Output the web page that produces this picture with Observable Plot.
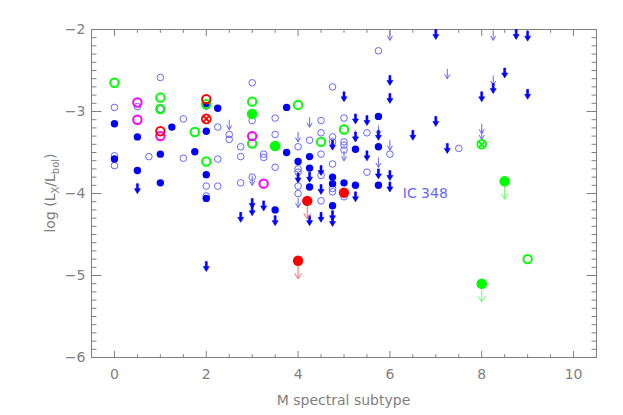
<!DOCTYPE html>
<html><head><meta charset="utf-8">
<script src="https://cdn.jsdelivr.net/npm/d3@7"></script>
<script src="https://cdn.jsdelivr.net/npm/@observablehq/plot@0.6"></script>
<style>body{margin:0;background:#fff} svg{display:block}</style>
</head><body><div id="chart"></div>
<script>
// ---- data (M subtype, log Lx/Lbol) ----
const openBlue = [
 [0,-2.95],[0,-3.54],[0,-3.66],[0.5,-2.94],[0.75,-3.55],[1,-2.585],[1,-2.97],
 [1.5,-3.09],[1.5,-3.57],[2,-3.91],[2,-4.03],[2.25,-3.19],[2.25,-3.58],[2.25,-3.91],
 [2.5,-3.28],[2.5,-3.34],[2.75,-3.43],[2.75,-3.55],[2.75,-3.87],[3,-2.65],[3,-3.11],[3,-3.80],
 [3.25,-3.52],[3.25,-3.56],[3.5,-3.08],[3.5,-3.28],[3.5,-3.68],
 [4,-3.43],[4,-3.70],[4,-3.74],[4,-3.91],[4,-4.0],[4.25,-3.35],
 [4.5,-3.11],[4.5,-3.26],[4.5,-3.52],[4.5,-3.78],[4.5,-4.09],
 [4.75,-2.70],[4.75,-3.31],[4.75,-3.37],[4.75,-3.64],[4.75,-3.94],[4.75,-3.98],
 [5,-3.08],[5,-3.37],[5,-3.41],[5,-3.47],[5,-4.04],[5.5,-3.26],[5.5,-3.74],
 [5.75,-2.26],[6,-3.52],[7.5,-3.45]
];
const filledBlue = [
 [0,-3.15],[0,-3.58],[0.5,-3.31],[0.5,-3.72],[1,-3.52],[1,-3.87],[1.25,-3.19],[1.75,-3.49],
 [2,-2.93],[2,-3.24],[2,-3.77],[2,-4.06],[2.25,-2.96],[3.5,-4.20],[3.75,-2.95],[3.75,-3.50],
 [4,-3.61],[4.25,-3.55],[4.25,-3.69],[4.25,-3.92],[4.75,-3.80],[4.75,-3.88],[4.75,-4.15],
 [5,-3.87],[5.25,-3.46],[5.25,-3.90],[5.75,-3.06],[5.75,-3.43],[5.75,-3.90]
];
const thinLimits = [
 [2.5,-3.10],[3,-3.78],[4,-3.25],[4,-4.05],[4.25,-3.07],[5,-3.48],[5.25,-3.23],[5.75,-3.17],
 [5.75,-3.56],[6,-2.01],[6,-3.35],[7.25,-2.48],[8,-3.15],[8,-3.22],[8.25,-2.01],[8.25,-2.56]
];
const thickLimits = [
 [0.5,-3.88],[2,-4.83],[2.75,-4.23],[3,-4.06],[3,-4.15],[3.25,-4.09],[3.5,-4.27],[4,-3.75],
 [4.25,-3.74],[4.25,-4.27],[4.5,-3.66],[4.5,-3.89],[4.5,-4.23],[4.75,-3.35],[4.75,-4.21],[4.75,-4.28],
 [5,-2.76],[5.25,-3.03],[5.25,-3.25],[5.25,-3.98],[5.5,-3.05],[5.5,-3.48],[5.75,-3.23],[5.75,-3.70],
 [6,-2.56],[6,-2.78],[6,-3.72],[6,-3.86],[6.5,-3.23],[7,-2.0],[7,-3.06],[7.25,-3.39],
 [8,-2.76],[8.25,-2.66],[8.5,-2.47],[8.75,-2.0],[9,-2.02],[9,-2.73]
];
const greenOpen = [[0,-2.65],[1,-2.83],[1,-2.97],[1.75,-3.25],[2,-2.91],[2,-3.61],[3,-2.88],[3,-3.39],[4,-2.92],[4.5,-3.37],[5,-3.22],[9,-4.80]];
const greenFilled = [[3,-3.03],[3.5,-3.42]];
const greenLimit = [[8.5,-3.85],[8,-5.10]];
const greenCross = [[8,-3.40]];
const magentaOpen = [[0.5,-2.89],[0.5,-3.10],[1,-3.30],[3,-3.30],[3.25,-3.88]];
const redOpen = [[1,-3.24],[2,-2.85]];
const redCross = [[2,-3.09]];
const redFilled = [[5,-3.99]];
const redLimit = [[4.2,-4.09],[4,-4.82]];
const regionLabel = [{x: 6.28, y: -4.0, text: "IC 348"}];

const xTickLabels = [0, 2, 4, 6, 8, 10];
const yTickLabels = [-6, -5, -4, -3, -2];
const xMinor = d3.range(0, 10.01, 0.5).filter(v => v % 2 !== 0);
const yMinor = d3.range(-60, -19, 1).map(v => v / 10).filter(v => !Number.isInteger(v));
const xDomain = [-0.5, 10.5], yDomain = [-6, -2];

const rows = a => a.map(([x, y]) => ({x, y}));

// ---- symbols ----
const thinArrow = {draw(c){ c.moveTo(0,0); c.lineTo(0,10); c.moveTo(-2.6,5.5); c.lineTo(0,10); c.lineTo(2.6,5.5); }};
const thickArrow = {draw(c){ c.moveTo(-1,0); c.lineTo(1,0); c.lineTo(1,5); c.lineTo(3,5); c.lineTo(0,10); c.lineTo(-3,5); c.lineTo(-1,5); c.closePath(); }};
const limitArrow = {draw(c){ c.moveTo(0,0); c.lineTo(0,18); c.moveTo(-3.5,12.5); c.lineTo(0,18); c.lineTo(3.5,12.5); }};
const crossCircle = {draw(c, size){ const r = Math.sqrt(size/Math.PI); c.moveTo(r,0); c.arc(0,0,r,0,2*Math.PI); const k=r*0.62; c.moveTo(-k,-k); c.lineTo(k,k); c.moveTo(k,-k); c.lineTo(-k,k); }};
const tickSym = (dx, dy) => ({draw(c){ c.moveTo(0,0); c.lineTo(dx,dy); }});

const W = 623, H = 415, mL = 91, mR = 27, mT = 29, mB = 58;
const PW = W - mL - mR, PH = H - mT - mB;
const axisGray = "#808080";
const lightBlue = "#6666ff", darkBlue = "#0000ff", green = "#00ff00", magenta = "#ff00ff", red = "#ff0000";
const tk = (data, key, other, sym) => Plot.dot(data.map(v => key === "x" ? {x: v, y: other} : {x: other, y: v}),
  {x: "x", y: "y", symbol: sym, stroke: axisGray, strokeWidth: 1, fill: "none"});

const chart = Plot.plot({
  width: W, height: H,
  marginLeft: mL, marginRight: mR, marginTop: mT, marginBottom: mB,
  style: {fontFamily: "DejaVu Sans", fontSize: "14px", color: axisGray, background: "white"},
  x: {domain: xDomain, ticks: xTickLabels, tickSize: 0, tickPadding: 12, tickFormat: d3.format("d"), label: null},
  y: {domain: yDomain, ticks: yTickLabels, tickSize: 0, tickPadding: 6, tickFormat: d3.format("d"), label: null},
  marks: [
    Plot.frame({stroke: axisGray}),
    // inward ticks on all four sides
    tk(xTickLabels, "x", yDomain[0], tickSym(0, -6.5)),
    tk(xMinor, "x", yDomain[0], tickSym(0, -3.3)),
    tk(xTickLabels, "x", yDomain[1], tickSym(0, 6.5)),
    tk(xMinor, "x", yDomain[1], tickSym(0, 3.3)),
    tk(yTickLabels, "y", xDomain[0], tickSym(10, 0)),
    tk(yMinor, "y", xDomain[0], tickSym(5, 0)),
    tk(yTickLabels, "y", xDomain[1], tickSym(-10, 0)),
    tk(yMinor, "y", xDomain[1], tickSym(-5, 0)),
    // blue sample
    Plot.dot(rows(openBlue), {x: "x", y: "y", r: 3.3, stroke: lightBlue, strokeWidth: 1, fill: "none"}),
    Plot.dot(rows(thinLimits), {x: "x", y: "y", symbol: thinArrow, stroke: lightBlue, strokeWidth: 1, fill: "none"}),
    Plot.dot(rows(filledBlue), {x: "x", y: "y", r: 3.7, fill: darkBlue, stroke: "none"}),
    Plot.dot(rows(thickLimits), {x: "x", y: "y", symbol: thickArrow, fill: darkBlue, stroke: darkBlue, strokeWidth: 0.6}),
    Plot.text(regionLabel, {x: "x", y: "y", text: "text", textAnchor: "start", fill: lightBlue, fontSize: 14}),
    // other samples
    Plot.dot(rows(greenOpen), {x: "x", y: "y", r: 4.2, stroke: green, strokeWidth: 2, fill: "none"}),
    Plot.dot(rows(greenFilled), {x: "x", y: "y", r: 5.3, fill: green, stroke: "none"}),
    Plot.dot(rows(greenLimit), {x: "x", y: "y", symbol: limitArrow, stroke: "#66ff66", strokeWidth: 1, fill: "none"}),
    Plot.dot(rows(greenLimit), {x: "x", y: "y", r: 5.3, fill: green, stroke: "none"}),
    Plot.dot(rows(greenCross), {x: "x", y: "y", r: 4.4, symbol: crossCircle, stroke: green, strokeWidth: 1.8, fill: "none"}),
    Plot.dot(rows(magentaOpen), {x: "x", y: "y", r: 4.2, stroke: magenta, strokeWidth: 2, fill: "none"}),
    Plot.dot(rows(redOpen), {x: "x", y: "y", r: 4.2, stroke: red, strokeWidth: 2, fill: "none"}),
    Plot.dot(rows(redCross), {x: "x", y: "y", r: 4.4, symbol: crossCircle, stroke: red, strokeWidth: 1.8, fill: "none"}),
    Plot.dot(rows(redLimit), {x: "x", y: "y", symbol: limitArrow, stroke: "#ff6666", strokeWidth: 1, fill: "none"}),
    Plot.dot(rows(redLimit), {x: "x", y: "y", r: 5.2, fill: red, stroke: "none"}),
    Plot.dot(rows(redFilled), {x: "x", y: "y", r: 5.2, fill: red, stroke: "none"})
  ]
});
document.getElementById("chart").appendChild(chart);

const svg = d3.select(chart);
svg.append("text")
  .attr("x", mL + PW / 2).attr("y", 405)
  .attr("text-anchor", "middle").attr("fill", axisGray)
  .style("font-family", "DejaVu Sans").style("font-size", "14px")
  .text("M spectral subtype");
const yl = svg.append("text")
  .attr("transform", `translate(55,${mT + PH / 2}) rotate(-90)`)
  .attr("text-anchor", "middle").attr("fill", axisGray)
  .style("font-family", "DejaVu Sans").style("font-size", "14px");
yl.append("tspan").text("log (L");
yl.append("tspan").attr("dy", 4).style("font-size", "10px").text("X");
yl.append("tspan").attr("dy", -4).text("/L");
yl.append("tspan").attr("dy", 4).style("font-size", "10px").text("bol");
yl.append("tspan").attr("dy", -4).text(")");
</script>
</body></html>
